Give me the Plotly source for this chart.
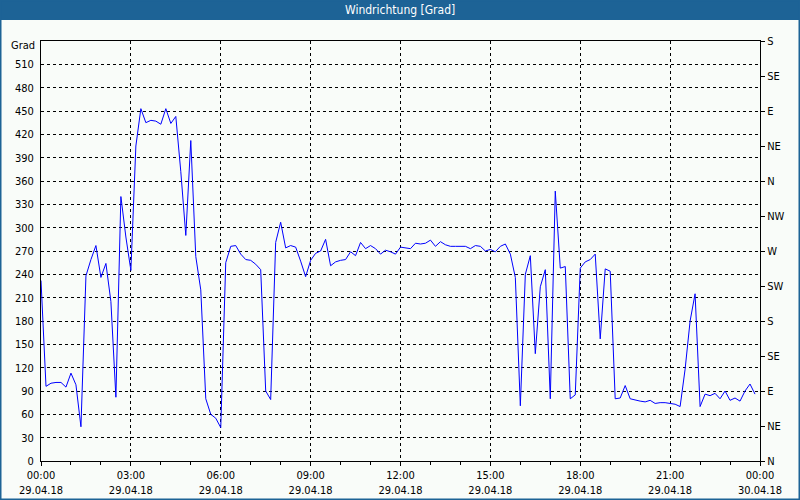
import plotly.graph_objects as go
import pandas as pd

# ---- data (10-minute wind direction readings, 29.04.18) ----
start_time = "2018-04-29 00:00"
n_points = 144
direction = [
    232, 96, 100, 101, 101, 95, 113, 98, 44, 238,
    259, 277, 236, 254, 205, 82, 340, 288, 245, 405,
    453, 435, 438, 437, 433, 453, 434, 443, 372, 290,
    412, 263, 220, 80, 60, 55, 43, 255, 276, 277,
    266, 259, 258, 253, 246, 90, 79, 281, 307, 274,
    277, 275, 257, 237, 258, 267, 270, 285, 251, 256,
    258, 259, 269, 264, 281, 273, 277, 273, 266, 271,
    269, 266, 275, 274, 273, 280, 279, 280, 284, 276,
    282, 278, 276, 276, 276, 276, 273, 277, 276, 270,
    272, 269, 276, 279, 266, 236, 71, 240, 264, 138,
    224, 246, 80, 347, 248, 250, 80, 85, 248, 256,
    259, 266, 157, 247, 244, 80, 81, 97, 80, 78,
    77, 76, 78, 74, 75, 75, 74, 73, 70, 118,
    180, 215, 70, 86, 84, 87, 80, 90, 78, 81,
    77, 90, 99, 86,
]
times = pd.date_range(start_time, periods=n_points, freq="10min")

x_tickvals = pd.date_range("2018-04-29 00:00", "2018-04-30 00:00", freq="3h")
x_ticktext = ["00:00<br>29.04.18", "03:00<br>29.04.18", "06:00<br>29.04.18",
              "09:00<br>29.04.18", "12:00<br>29.04.18", "15:00<br>29.04.18",
              "18:00<br>29.04.18", "21:00<br>29.04.18", "00:00<br>30.04.18"]
left_tickvals = list(range(0, 511, 30))
right_tickvals = list(range(0, 541, 45))
right_ticktext = ["N", "NE", "E", "SE", "S", "SW", "W", "NW",
                  "N", "NE", "E", "SE", "S"]
title_text = "Windrichtung [Grad]"
unit_text = "Grad"

# ---- styling ----
FONT = "Liberation Sans Narrow, DejaVu Sans Condensed, Arial Narrow, Liberation Sans, sans-serif"
BG = "#f9fcf9"
BAR = "#1d6396"
W, H = 800, 500
ML, MR, MT, MB = 41, 40, 41, 39
PW, PH = W - ML - MR, H - MT - MB


def px_x(px):
    return (px - ML) / PW


def px_y(py):
    return (H - MB - py) / PH


fig = go.Figure()
fig.add_trace(go.Scatter(x=times, y=direction, mode="lines",
                         line=dict(color="#0000ff", width=1),
                         hoverinfo="skip", showlegend=False))
fig.add_trace(go.Scatter(x=times, y=direction, mode="lines", yaxis="y2",
                         line=dict(color="#0000ff", width=1), opacity=0,
                         hoverinfo="skip", showlegend=False))

fig.update_layout(
    width=W, height=H,
    margin=dict(l=ML, r=MR, t=MT, b=MB, pad=0, autoexpand=False),
    paper_bgcolor=BG, plot_bgcolor=BG,
    font=dict(family=FONT, size=11, color="black"),
    xaxis=dict(
        automargin=False,
        range=[x_tickvals[0], x_tickvals[-1]],
        tickmode="array", tickvals=x_tickvals, ticktext=x_ticktext,
        ticks="outside", ticklen=4, tickcolor="black", tickwidth=1,
        showline=True, linecolor="black", linewidth=1, mirror=True,
        showgrid=True, gridcolor="black", gridwidth=1, griddash="3px,3px",
        zeroline=False,
        minor=dict(tickmode="linear", tick0="2018-04-29 00:00", dtick=3600000,
                   ticks="outside", ticklen=3, tickcolor="black", showgrid=False),
    ),
    yaxis=dict(
        automargin=False,
        range=[0, 540], tickmode="array", tickvals=left_tickvals,
        ticks="", ticklabelstandoff=4,
        showline=True, linecolor="black", linewidth=1, mirror=True,
        showgrid=True, gridcolor="black", gridwidth=1, griddash="3px,3px",
        zeroline=False,
    ),
    yaxis2=dict(
        automargin=False,
        range=[0, 540], overlaying="y", side="right",
        tickmode="array", tickvals=right_tickvals, ticktext=right_ticktext,
        ticks="outside", ticklen=4, tickcolor="black",
        showgrid=False, zeroline=False, showline=False,
    ),
    shapes=[
        dict(type="rect", xref="paper", yref="paper",
             x0=px_x(0), x1=px_x(W), y0=px_y(20), y1=px_y(0),
             fillcolor=BAR, line=dict(width=0), layer="above"),
        dict(type="rect", xref="paper", yref="paper",
             x0=px_x(0.5), x1=px_x(W - 0.5), y0=px_y(H - 0.5), y1=px_y(0.5),
             fillcolor="rgba(0,0,0,0)", line=dict(color=BAR, width=2), layer="above"),
    ],
    annotations=[
        dict(text=title_text, xref="paper", yref="paper", x=px_x(W / 2), y=px_y(10),
             xanchor="center", yanchor="middle", showarrow=False,
             font=dict(family=FONT, size=12, color="white")),
        dict(text=unit_text, xref="paper", yref="paper", x=px_x(37), y=px_y(46),
             xanchor="right", yanchor="middle", showarrow=False,
             font=dict(family=FONT, size=11, color="black")),
    ],
)

fig.write_html("out.html",
               config={"displayModeBar": False, "staticPlot": True},
               post_script="document.body.style.margin='0';document.body.style.overflow='hidden';")
